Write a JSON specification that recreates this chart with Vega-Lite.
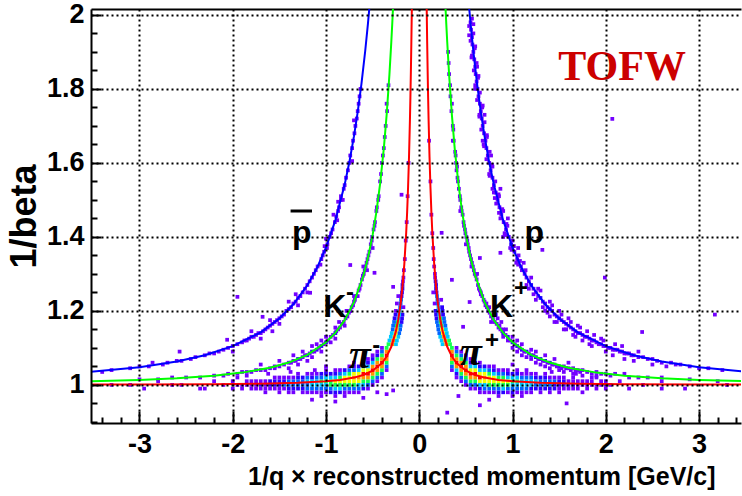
{
"$schema":"https://vega.github.io/schema/vega-lite/v6.json",
"width":650,"height":414,
"autosize":{"type":"none"},
"padding":{"left":91,"top":9,"right":1,"bottom":73},
"background":"white",
"config":{"view":{"stroke":null},
"axis":{"domainColor":"black","domainWidth":2,"tickColor":"black","tickWidth":2,"labelFont":"Liberation Sans","labelFontWeight":"bold","labelFontSize":27,"labelColor":"black","titleFont":"Liberation Sans","titleFontWeight":"bold","titleColor":"black","gridColor":"black","gridDash":[2,3],"gridWidth":2,"gridOpacity":1}},
"datasets":{
"cells":[
{"x":0.25,"y":1.11,"c":10},{"x":0.29,"y":1.11,"c":34},{"x":0.33,"y":1.11,"c":14},
{"x":0.24,"y":1.12,"c":9},{"x":0.28,"y":1.12,"c":30},{"x":0.32,"y":1.12,"c":12},
{"x":0.225,"y":1.13,"c":8},{"x":0.265,"y":1.13,"c":26},{"x":0.305,"y":1.13,"c":10},
{"x":0.215,"y":1.14,"c":7},{"x":0.255,"y":1.14,"c":22},{"x":0.295,"y":1.14,"c":9},
{"x":0.205,"y":1.15,"c":6},{"x":0.245,"y":1.15,"c":19},{"x":0.285,"y":1.15,"c":8},
{"x":0.2,"y":1.16,"c":5},{"x":0.24,"y":1.16,"c":16},{"x":0.28,"y":1.16,"c":7},
{"x":0.19,"y":1.17,"c":5},{"x":0.23,"y":1.17,"c":14},{"x":0.27,"y":1.17,"c":6},
{"x":0.185,"y":1.18,"c":4},{"x":0.225,"y":1.18,"c":12},{"x":0.265,"y":1.18,"c":5},
{"x":0.18,"y":1.19,"c":4},{"x":0.215,"y":1.19,"c":10},{"x":0.255,"y":1.19,"c":4},
{"x":0.175,"y":1.2,"c":3},{"x":0.21,"y":1.2,"c":9},{"x":0.25,"y":1.2,"c":3},
{"x":0.205,"y":1.21,"c":8},{"x":0.245,"y":1.21,"c":3},
{"x":0.165,"y":1.22,"c":2},{"x":0.2,"y":1.22,"c":7},
{"x":0.195,"y":1.23,"c":6},{"x":0.235,"y":1.23,"c":2},
{"x":0.19,"y":1.24,"c":5},{"x":0.185,"y":1.25,"c":4},{"x":0.15,"y":1.25,"c":1},
{"x":0.18,"y":1.26,"c":4},{"x":0.18,"y":1.27,"c":3},{"x":0.175,"y":1.28,"c":3},{"x":0.17,"y":1.29,"c":2},{"x":0.168,"y":1.3,"c":2},
{"x":0.16,"y":1.32,"c":1},{"x":0.155,"y":1.34,"c":1},{"x":0.15,"y":1.37,"c":1},{"x":0.14,"y":1.41,"c":1},{"x":0.13,"y":1.46,"c":1},{"x":0.12,"y":1.55,"c":1},{"x":0.105,"y":1.66,"c":1},
{"x":0.35,"y":1.04,"c":2},{"x":0.35,"y":1.05,"c":5},{"x":0.35,"y":1.06,"c":12},{"x":0.35,"y":1.07,"c":28},{"x":0.35,"y":1.08,"c":40},{"x":0.35,"y":1.09,"c":30},{"x":0.35,"y":1.1,"c":16},
{"x":0.4,"y":1.02,"c":1},{"x":0.4,"y":1.03,"c":4},{"x":0.4,"y":1.04,"c":11},{"x":0.4,"y":1.05,"c":28},{"x":0.4,"y":1.06,"c":44},{"x":0.4,"y":1.07,"c":30},{"x":0.4,"y":1.08,"c":13},{"x":0.4,"y":1.09,"c":6},{"x":0.4,"y":1.1,"c":2},
{"x":0.45,"y":1.01,"c":2},{"x":0.45,"y":1.02,"c":5},{"x":0.45,"y":1.03,"c":13},{"x":0.45,"y":1.04,"c":31},{"x":0.45,"y":1.05,"c":45},{"x":0.45,"y":1.06,"c":27},{"x":0.45,"y":1.07,"c":14},{"x":0.45,"y":1.08,"c":5},{"x":0.45,"y":1.09,"c":1},
{"x":0.5,"y":1,"c":1},{"x":0.5,"y":1.01,"c":5},{"x":0.5,"y":1.02,"c":14},{"x":0.5,"y":1.03,"c":30},{"x":0.5,"y":1.04,"c":42},{"x":0.5,"y":1.05,"c":26},{"x":0.5,"y":1.06,"c":12},{"x":0.5,"y":1.07,"c":5},{"x":0.5,"y":1.08,"c":2},
{"x":0.55,"y":0.99,"c":2},{"x":0.55,"y":1,"c":6},{"x":0.55,"y":1.01,"c":15},{"x":0.55,"y":1.02,"c":32},{"x":0.55,"y":1.03,"c":40},{"x":0.55,"y":1.04,"c":24},{"x":0.55,"y":1.05,"c":10},{"x":0.55,"y":1.06,"c":4},{"x":0.55,"y":1.07,"c":1},
{"x":0.6,"y":0.99,"c":2},{"x":0.6,"y":1,"c":7},{"x":0.6,"y":1.01,"c":14},{"x":0.6,"y":1.02,"c":29},{"x":0.6,"y":1.03,"c":38},{"x":0.6,"y":1.04,"c":20},{"x":0.6,"y":1.05,"c":9},{"x":0.6,"y":1.06,"c":3},
{"x":0.65,"y":0.98,"c":1},{"x":0.65,"y":0.99,"c":4},{"x":0.65,"y":1,"c":10},{"x":0.65,"y":1.01,"c":22},{"x":0.65,"y":1.02,"c":36},{"x":0.65,"y":1.03,"c":24},{"x":0.65,"y":1.04,"c":10},{"x":0.65,"y":1.05,"c":4},{"x":0.65,"y":1.06,"c":1},
{"x":0.7,"y":0.98,"c":2},{"x":0.7,"y":0.99,"c":5},{"x":0.7,"y":1,"c":11},{"x":0.7,"y":1.01,"c":20},{"x":0.7,"y":1.02,"c":30},{"x":0.7,"y":1.03,"c":18},{"x":0.7,"y":1.04,"c":8},{"x":0.7,"y":1.05,"c":3},
{"x":0.75,"y":0.98,"c":2},{"x":0.75,"y":0.99,"c":6},{"x":0.75,"y":1,"c":12},{"x":0.75,"y":1.01,"c":19},{"x":0.75,"y":1.02,"c":24},{"x":0.75,"y":1.03,"c":14},{"x":0.75,"y":1.04,"c":6},{"x":0.75,"y":1.05,"c":2},
{"x":0.8,"y":0.98,"c":1},{"x":0.8,"y":0.99,"c":6},{"x":0.8,"y":1,"c":13},{"x":0.8,"y":1.01,"c":20},{"x":0.8,"y":1.02,"c":21},{"x":0.8,"y":1.03,"c":11},{"x":0.8,"y":1.04,"c":4},{"x":0.8,"y":1.05,"c":1},
{"x":0.85,"y":0.97,"c":1},{"x":0.85,"y":0.98,"c":3},{"x":0.85,"y":0.99,"c":7},{"x":0.85,"y":1,"c":14},{"x":0.85,"y":1.01,"c":20},{"x":0.85,"y":1.02,"c":13},{"x":0.85,"y":1.03,"c":6},{"x":0.85,"y":1.04,"c":2},
{"x":0.9,"y":0.98,"c":3},{"x":0.9,"y":0.99,"c":8},{"x":0.9,"y":1,"c":13},{"x":0.9,"y":1.01,"c":18},{"x":0.9,"y":1.02,"c":12},{"x":0.9,"y":1.03,"c":5},{"x":0.9,"y":1.04,"c":2},
{"x":0.95,"y":0.98,"c":2},{"x":0.95,"y":0.99,"c":7},{"x":0.95,"y":1,"c":12},{"x":0.95,"y":1.01,"c":17},{"x":0.95,"y":1.02,"c":10},{"x":0.95,"y":1.03,"c":4},{"x":0.95,"y":1.04,"c":1},
{"x":1,"y":0.97,"c":1},{"x":1,"y":0.98,"c":3},{"x":1,"y":0.99,"c":6},{"x":1,"y":1,"c":11},{"x":1,"y":1.01,"c":15},{"x":1,"y":1.02,"c":9},{"x":1,"y":1.03,"c":4},
{"x":1.05,"y":0.98,"c":2},{"x":1.05,"y":0.99,"c":6},{"x":1.05,"y":1,"c":10},{"x":1.05,"y":1.01,"c":13},{"x":1.05,"y":1.02,"c":8},{"x":1.05,"y":1.03,"c":3},{"x":1.05,"y":1.04,"c":1},
{"x":1.1,"y":0.98,"c":2},{"x":1.1,"y":0.99,"c":5},{"x":1.1,"y":1,"c":9},{"x":1.1,"y":1.01,"c":11},{"x":1.1,"y":1.02,"c":6},{"x":1.1,"y":1.03,"c":2},
{"x":1.15,"y":0.98,"c":1},{"x":1.15,"y":0.99,"c":5},{"x":1.15,"y":1,"c":8},{"x":1.15,"y":1.01,"c":10},{"x":1.15,"y":1.02,"c":5},{"x":1.15,"y":1.03,"c":2},
{"x":1.2,"y":0.98,"c":2},{"x":1.2,"y":0.99,"c":4},{"x":1.2,"y":1,"c":8},{"x":1.2,"y":1.01,"c":9},{"x":1.2,"y":1.02,"c":5},{"x":1.2,"y":1.03,"c":1},
{"x":1.25,"y":0.99,"c":4},{"x":1.25,"y":1,"c":7},{"x":1.25,"y":1.01,"c":8},{"x":1.25,"y":1.02,"c":4},{"x":1.25,"y":1.03,"c":1},
{"x":1.3,"y":0.98,"c":1},{"x":1.3,"y":0.99,"c":4},{"x":1.3,"y":1,"c":6},{"x":1.3,"y":1.01,"c":7},{"x":1.3,"y":1.02,"c":3},
{"x":1.35,"y":0.99,"c":3},{"x":1.35,"y":1,"c":6},{"x":1.35,"y":1.01,"c":6},{"x":1.35,"y":1.02,"c":3},{"x":1.35,"y":1.03,"c":1},
{"x":1.4,"y":0.98,"c":1},{"x":1.4,"y":0.99,"c":3},{"x":1.4,"y":1,"c":5},{"x":1.4,"y":1.01,"c":5},{"x":1.4,"y":1.02,"c":2},
{"x":1.45,"y":0.99,"c":3},{"x":1.45,"y":1,"c":4},{"x":1.45,"y":1.01,"c":5},{"x":1.45,"y":1.02,"c":2},
{"x":1.5,"y":0.98,"c":1},{"x":1.5,"y":0.99,"c":2},{"x":1.5,"y":1,"c":4},{"x":1.5,"y":1.01,"c":4},{"x":1.5,"y":1.02,"c":2},
{"x":1.55,"y":0.99,"c":2},{"x":1.55,"y":1,"c":3},{"x":1.55,"y":1.01,"c":3},{"x":1.55,"y":1.02,"c":1},
{"x":1.6,"y":0.99,"c":2},{"x":1.6,"y":1,"c":3},{"x":1.6,"y":1.01,"c":2},
{"x":1.65,"y":0.99,"c":1},{"x":1.65,"y":1,"c":3},{"x":1.65,"y":1.01,"c":2},{"x":1.65,"y":1.02,"c":1},
{"x":1.7,"y":0.99,"c":2},{"x":1.7,"y":1,"c":2},{"x":1.7,"y":1.01,"c":2},
{"x":1.75,"y":0.98,"c":1},{"x":1.75,"y":1,"c":2},{"x":1.75,"y":1.01,"c":2},
{"x":1.8,"y":0.99,"c":1},{"x":1.8,"y":1,"c":2},{"x":1.8,"y":1.01,"c":1},
{"x":1.85,"y":1,"c":2},{"x":1.85,"y":1.01,"c":1},{"x":1.85,"y":1.02,"c":1},
{"x":1.9,"y":0.99,"c":1},{"x":1.9,"y":1,"c":2},{"x":1.95,"y":1,"c":1},{"x":1.95,"y":1.01,"c":2},
{"x":2,"y":0.99,"c":1},{"x":2,"y":1,"c":1},{"x":2,"y":1.01,"c":1},
{"x":2.05,"y":1,"c":1},{"x":2.15,"y":1.01,"c":1},{"x":2.25,"y":0.99,"c":1},{"x":2.4,"y":1,"c":1},{"x":2.6,"y":1.01,"c":1},{"x":2.85,"y":0.99,"c":1},
{"x":-0.25,"y":1.11,"c":11},{"x":-0.29,"y":1.11,"c":32},{"x":-0.33,"y":1.11,"c":12},
{"x":-0.24,"y":1.12,"c":8},{"x":-0.28,"y":1.12,"c":28},{"x":-0.32,"y":1.12,"c":11},
{"x":-0.225,"y":1.13,"c":8},{"x":-0.265,"y":1.13,"c":24},{"x":-0.305,"y":1.13,"c":9},
{"x":-0.215,"y":1.14,"c":6},{"x":-0.255,"y":1.14,"c":21},{"x":-0.295,"y":1.14,"c":8},
{"x":-0.205,"y":1.15,"c":6},{"x":-0.245,"y":1.15,"c":17},{"x":-0.285,"y":1.15,"c":7},
{"x":-0.2,"y":1.16,"c":5},{"x":-0.24,"y":1.16,"c":15},{"x":-0.28,"y":1.16,"c":5},
{"x":-0.19,"y":1.17,"c":4},{"x":-0.23,"y":1.17,"c":13},{"x":-0.27,"y":1.17,"c":5},
{"x":-0.185,"y":1.18,"c":4},{"x":-0.225,"y":1.18,"c":11},{"x":-0.265,"y":1.18,"c":4},
{"x":-0.18,"y":1.19,"c":3},{"x":-0.215,"y":1.19,"c":9},{"x":-0.255,"y":1.19,"c":3},
{"x":-0.21,"y":1.2,"c":8},{"x":-0.25,"y":1.2,"c":2},
{"x":-0.17,"y":1.21,"c":2},{"x":-0.205,"y":1.21,"c":7},
{"x":-0.2,"y":1.22,"c":6},{"x":-0.24,"y":1.22,"c":2},
{"x":-0.195,"y":1.23,"c":5},{"x":-0.19,"y":1.24,"c":4},{"x":-0.225,"y":1.24,"c":1},
{"x":-0.185,"y":1.25,"c":4},{"x":-0.18,"y":1.26,"c":3},{"x":-0.18,"y":1.27,"c":3},{"x":-0.175,"y":1.28,"c":2},{"x":-0.17,"y":1.29,"c":2},
{"x":-0.165,"y":1.31,"c":1},{"x":-0.155,"y":1.34,"c":1},{"x":-0.145,"y":1.39,"c":1},{"x":-0.135,"y":1.44,"c":1},{"x":-0.125,"y":1.51,"c":1},{"x":-0.115,"y":1.6,"c":1},
{"x":-0.35,"y":1.04,"c":2},{"x":-0.35,"y":1.05,"c":6},{"x":-0.35,"y":1.06,"c":13},{"x":-0.35,"y":1.07,"c":27},{"x":-0.35,"y":1.08,"c":38},{"x":-0.35,"y":1.09,"c":28},{"x":-0.35,"y":1.1,"c":15},
{"x":-0.4,"y":1.02,"c":2},{"x":-0.4,"y":1.03,"c":5},{"x":-0.4,"y":1.04,"c":12},{"x":-0.4,"y":1.05,"c":29},{"x":-0.4,"y":1.06,"c":42},{"x":-0.4,"y":1.07,"c":28},{"x":-0.4,"y":1.08,"c":12},{"x":-0.4,"y":1.09,"c":5},{"x":-0.4,"y":1.1,"c":1},
{"x":-0.45,"y":1.01,"c":1},{"x":-0.45,"y":1.02,"c":6},{"x":-0.45,"y":1.03,"c":14},{"x":-0.45,"y":1.04,"c":30},{"x":-0.45,"y":1.05,"c":43},{"x":-0.45,"y":1.06,"c":26},{"x":-0.45,"y":1.07,"c":13},{"x":-0.45,"y":1.08,"c":4},{"x":-0.45,"y":1.09,"c":2},
{"x":-0.5,"y":1,"c":2},{"x":-0.5,"y":1.01,"c":6},{"x":-0.5,"y":1.02,"c":15},{"x":-0.5,"y":1.03,"c":31},{"x":-0.5,"y":1.04,"c":40},{"x":-0.5,"y":1.05,"c":25},{"x":-0.5,"y":1.06,"c":11},{"x":-0.5,"y":1.07,"c":4},{"x":-0.5,"y":1.08,"c":1},
{"x":-0.55,"y":0.99,"c":1},{"x":-0.55,"y":1,"c":5},{"x":-0.55,"y":1.01,"c":16},{"x":-0.55,"y":1.02,"c":30},{"x":-0.55,"y":1.03,"c":39},{"x":-0.55,"y":1.04,"c":22},{"x":-0.55,"y":1.05,"c":9},{"x":-0.55,"y":1.06,"c":3},{"x":-0.55,"y":1.07,"c":1},
{"x":-0.6,"y":0.99,"c":3},{"x":-0.6,"y":1,"c":8},{"x":-0.6,"y":1.01,"c":15},{"x":-0.6,"y":1.02,"c":28},{"x":-0.6,"y":1.03,"c":36},{"x":-0.6,"y":1.04,"c":19},{"x":-0.6,"y":1.05,"c":8},{"x":-0.6,"y":1.06,"c":2},
{"x":-0.65,"y":0.98,"c":2},{"x":-0.65,"y":0.99,"c":5},{"x":-0.65,"y":1,"c":11},{"x":-0.65,"y":1.01,"c":23},{"x":-0.65,"y":1.02,"c":34},{"x":-0.65,"y":1.03,"c":22},{"x":-0.65,"y":1.04,"c":9},{"x":-0.65,"y":1.05,"c":3},
{"x":-0.7,"y":0.98,"c":1},{"x":-0.7,"y":0.99,"c":6},{"x":-0.7,"y":1,"c":12},{"x":-0.7,"y":1.01,"c":21},{"x":-0.7,"y":1.02,"c":29},{"x":-0.7,"y":1.03,"c":17},{"x":-0.7,"y":1.04,"c":7},{"x":-0.7,"y":1.05,"c":2},{"x":-0.7,"y":1.06,"c":1},
{"x":-0.75,"y":0.98,"c":2},{"x":-0.75,"y":0.99,"c":7},{"x":-0.75,"y":1,"c":13},{"x":-0.75,"y":1.01,"c":18},{"x":-0.75,"y":1.02,"c":23},{"x":-0.75,"y":1.03,"c":13},{"x":-0.75,"y":1.04,"c":5},{"x":-0.75,"y":1.05,"c":1},
{"x":-0.8,"y":0.97,"c":1},{"x":-0.8,"y":0.98,"c":2},{"x":-0.8,"y":0.99,"c":7},{"x":-0.8,"y":1,"c":14},{"x":-0.8,"y":1.01,"c":19},{"x":-0.8,"y":1.02,"c":20},{"x":-0.8,"y":1.03,"c":10},{"x":-0.8,"y":1.04,"c":3},
{"x":-0.85,"y":0.98,"c":3},{"x":-0.85,"y":0.99,"c":8},{"x":-0.85,"y":1,"c":13},{"x":-0.85,"y":1.01,"c":19},{"x":-0.85,"y":1.02,"c":12},{"x":-0.85,"y":1.03,"c":5},{"x":-0.85,"y":1.04,"c":1},
{"x":-0.9,"y":0.97,"c":1},{"x":-0.9,"y":0.98,"c":4},{"x":-0.9,"y":0.99,"c":8},{"x":-0.9,"y":1,"c":12},{"x":-0.9,"y":1.01,"c":17},{"x":-0.9,"y":1.02,"c":11},{"x":-0.9,"y":1.03,"c":4},{"x":-0.9,"y":1.04,"c":1},
{"x":-0.95,"y":0.98,"c":3},{"x":-0.95,"y":0.99,"c":7},{"x":-0.95,"y":1,"c":12},{"x":-0.95,"y":1.01,"c":16},{"x":-0.95,"y":1.02,"c":9},{"x":-0.95,"y":1.03,"c":4},
{"x":-1,"y":0.98,"c":2},{"x":-1,"y":0.99,"c":7},{"x":-1,"y":1,"c":11},{"x":-1,"y":1.01,"c":14},{"x":-1,"y":1.02,"c":8},{"x":-1,"y":1.03,"c":3},{"x":-1,"y":1.04,"c":1},
{"x":-1.05,"y":0.97,"c":1},{"x":-1.05,"y":0.98,"c":2},{"x":-1.05,"y":0.99,"c":6},{"x":-1.05,"y":1,"c":10},{"x":-1.05,"y":1.01,"c":12},{"x":-1.05,"y":1.02,"c":7},{"x":-1.05,"y":1.03,"c":3},
{"x":-1.1,"y":0.98,"c":2},{"x":-1.1,"y":0.99,"c":6},{"x":-1.1,"y":1,"c":9},{"x":-1.1,"y":1.01,"c":10},{"x":-1.1,"y":1.02,"c":6},{"x":-1.1,"y":1.03,"c":2},
{"x":-1.15,"y":0.98,"c":2},{"x":-1.15,"y":0.99,"c":5},{"x":-1.15,"y":1,"c":8},{"x":-1.15,"y":1.01,"c":9},{"x":-1.15,"y":1.02,"c":4},{"x":-1.15,"y":1.03,"c":1},
{"x":-1.2,"y":0.98,"c":1},{"x":-1.2,"y":0.99,"c":5},{"x":-1.2,"y":1,"c":7},{"x":-1.2,"y":1.01,"c":9},{"x":-1.2,"y":1.02,"c":5},{"x":-1.2,"y":1.03,"c":2},
{"x":-1.25,"y":0.98,"c":1},{"x":-1.25,"y":0.99,"c":4},{"x":-1.25,"y":1,"c":7},{"x":-1.25,"y":1.01,"c":7},{"x":-1.25,"y":1.02,"c":3},
{"x":-1.3,"y":0.99,"c":4},{"x":-1.3,"y":1,"c":6},{"x":-1.3,"y":1.01,"c":7},{"x":-1.3,"y":1.02,"c":3},{"x":-1.3,"y":1.03,"c":1},
{"x":-1.35,"y":0.98,"c":1},{"x":-1.35,"y":0.99,"c":3},{"x":-1.35,"y":1,"c":6},{"x":-1.35,"y":1.01,"c":5},{"x":-1.35,"y":1.02,"c":2},
{"x":-1.4,"y":0.98,"c":1},{"x":-1.4,"y":0.99,"c":3},{"x":-1.4,"y":1,"c":5},{"x":-1.4,"y":1.01,"c":5},{"x":-1.4,"y":1.02,"c":2},
{"x":-1.45,"y":0.99,"c":2},{"x":-1.45,"y":1,"c":5},{"x":-1.45,"y":1.01,"c":4},{"x":-1.45,"y":1.02,"c":2},
{"x":-1.5,"y":0.98,"c":1},{"x":-1.5,"y":0.99,"c":2},{"x":-1.5,"y":1,"c":4},{"x":-1.5,"y":1.01,"c":4},{"x":-1.5,"y":1.02,"c":1},
{"x":-1.55,"y":0.99,"c":2},{"x":-1.55,"y":1,"c":3},{"x":-1.55,"y":1.01,"c":3},{"x":-1.55,"y":1.02,"c":1},
{"x":-1.6,"y":0.99,"c":1},{"x":-1.6,"y":1,"c":3},{"x":-1.6,"y":1.01,"c":3},
{"x":-1.65,"y":0.98,"c":1},{"x":-1.65,"y":0.99,"c":2},{"x":-1.65,"y":1,"c":2},{"x":-1.65,"y":1.01,"c":2},
{"x":-1.7,"y":0.99,"c":1},{"x":-1.7,"y":1,"c":3},{"x":-1.7,"y":1.01,"c":2},
{"x":-1.75,"y":0.99,"c":1},{"x":-1.75,"y":1,"c":2},{"x":-1.75,"y":1.01,"c":1},
{"x":-1.8,"y":0.99,"c":1},{"x":-1.8,"y":1,"c":2},{"x":-1.8,"y":1.01,"c":2},
{"x":-1.85,"y":1,"c":1},{"x":-1.85,"y":1.01,"c":2},{"x":-1.9,"y":0.99,"c":2},{"x":-1.9,"y":1,"c":1},
{"x":-1.95,"y":1,"c":1},{"x":-1.95,"y":1.02,"c":1},{"x":-2,"y":0.99,"c":1},{"x":-2,"y":1.01,"c":1},
{"x":-2.1,"y":1,"c":1},{"x":-2.2,"y":1.01,"c":1},{"x":-2.35,"y":0.99,"c":1},{"x":-2.55,"y":1,"c":1},{"x":-2.8,"y":1.01,"c":1},{"x":-3.1,"y":1,"c":1},{"x":-3.3,"y":1,"c":1},{"x":-2.95,"y":0.99,"c":1},{"x":-2.65,"y":1,"c":1},
{"x":0.31,"y":1.9,"c":1},{"x":0.32,"y":1.84,"c":1},{"x":0.335,"y":1.78,"c":1},{"x":0.345,"y":1.74,"c":1},{"x":0.36,"y":1.7,"c":1},{"x":0.37,"y":1.66,"c":1},{"x":0.385,"y":1.63,"c":1},
{"x":0.395,"y":1.6,"c":2},{"x":0.4,"y":1.58,"c":1},{"x":0.41,"y":1.56,"c":1},{"x":0.425,"y":1.53,"c":1},{"x":0.44,"y":1.5,"c":1},{"x":0.45,"y":1.48,"c":2},{"x":0.465,"y":1.46,"c":1},{"x":0.475,"y":1.44,"c":1},{"x":0.49,"y":1.42,"c":1},{"x":0.505,"y":1.4,"c":2},{"x":0.52,"y":1.38,"c":1},{"x":0.535,"y":1.36,"c":2},{"x":0.555,"y":1.34,"c":2},{"x":0.575,"y":1.32,"c":1},{"x":0.595,"y":1.3,"c":2},{"x":0.615,"y":1.285,"c":1},{"x":0.63,"y":1.27,"c":2},{"x":0.65,"y":1.255,"c":1},{"x":0.675,"y":1.24,"c":2},{"x":0.7,"y":1.225,"c":1},{"x":0.725,"y":1.21,"c":2},{"x":0.755,"y":1.195,"c":1},{"x":0.79,"y":1.18,"c":2},{"x":0.83,"y":1.165,"c":1},{"x":0.87,"y":1.15,"c":2},
{"x":0.36,"y":1.66,"c":1},{"x":0.44,"y":1.47,"c":1},{"x":0.5,"y":1.38,"c":1},{"x":0.56,"y":1.32,"c":1},{"x":0.62,"y":1.3,"c":1},{"x":0.66,"y":1.25,"c":1},{"x":0.72,"y":1.22,"c":1},{"x":0.77,"y":1.17,"c":1},{"x":0.8,"y":1.19,"c":1},{"x":0.84,"y":1.18,"c":1},{"x":0.86,"y":1.16,"c":1},
{"x":0.315,"y":1.87,"c":1},{"x":0.33,"y":1.81,"c":1},{"x":0.35,"y":1.76,"c":1},{"x":0.365,"y":1.69,"c":1},{"x":0.39,"y":1.62,"c":1},{"x":0.405,"y":1.59,"c":1},{"x":0.415,"y":1.55,"c":1},{"x":0.435,"y":1.51,"c":1},{"x":0.455,"y":1.47,"c":1},{"x":0.48,"y":1.43,"c":1},{"x":0.495,"y":1.41,"c":1},{"x":0.515,"y":1.39,"c":1},{"x":0.53,"y":1.37,"c":1},{"x":0.545,"y":1.35,"c":1},{"x":0.565,"y":1.33,"c":1},{"x":0.585,"y":1.31,"c":1},{"x":0.605,"y":1.295,"c":1},{"x":0.64,"y":1.26,"c":1},{"x":0.66,"y":1.245,"c":1},{"x":0.69,"y":1.23,"c":1},{"x":0.71,"y":1.215,"c":1},{"x":0.74,"y":1.2,"c":1},{"x":0.77,"y":1.185,"c":1},{"x":0.81,"y":1.17,"c":1},{"x":0.85,"y":1.155,"c":1},{"x":0.89,"y":1.145,"c":1},{"x":0.75,"y":1.21,"c":1},{"x":0.82,"y":1.19,"c":1},{"x":0.88,"y":1.17,"c":1},{"x":0.93,"y":1.15,"c":1},
{"x":0.9,"y":1.14,"c":3},{"x":0.9,"y":1.13,"c":1},{"x":0.9,"y":1.15,"c":1},{"x":0.95,"y":1.13,"c":3},{"x":0.95,"y":1.12,"c":2},{"x":1,"y":1.115,"c":3},{"x":1,"y":1.1,"c":1},{"x":1,"y":1.13,"c":1},
{"x":1.05,"y":1.105,"c":3},{"x":1.05,"y":1.09,"c":2},{"x":1.05,"y":1.12,"c":1},{"x":1.1,"y":1.095,"c":4},{"x":1.1,"y":1.08,"c":1},{"x":1.1,"y":1.11,"c":2},{"x":1.15,"y":1.09,"c":3},{"x":1.15,"y":1.075,"c":2},
{"x":1.2,"y":1.08,"c":4},{"x":1.2,"y":1.07,"c":2},{"x":1.2,"y":1.095,"c":1},{"x":1.25,"y":1.075,"c":3},{"x":1.25,"y":1.06,"c":1},{"x":1.25,"y":1.09,"c":2},{"x":1.3,"y":1.07,"c":3},{"x":1.3,"y":1.055,"c":2},
{"x":1.35,"y":1.065,"c":3},{"x":1.35,"y":1.05,"c":1},{"x":1.35,"y":1.08,"c":1},{"x":1.4,"y":1.06,"c":3},{"x":1.4,"y":1.045,"c":2},{"x":1.45,"y":1.055,"c":2},{"x":1.45,"y":1.07,"c":1},{"x":1.5,"y":1.05,"c":3},{"x":1.5,"y":1.04,"c":1},
{"x":1.55,"y":1.05,"c":2},{"x":1.55,"y":1.035,"c":1},{"x":1.6,"y":1.045,"c":2},{"x":1.6,"y":1.06,"c":1},{"x":1.65,"y":1.045,"c":1},{"x":1.65,"y":1.03,"c":1},{"x":1.7,"y":1.04,"c":2},{"x":1.75,"y":1.04,"c":1},{"x":1.75,"y":1.025,"c":1},{"x":1.8,"y":1.035,"c":2},{"x":1.9,"y":1.035,"c":1},{"x":1.9,"y":1.02,"c":1},{"x":2,"y":1.03,"c":1},{"x":2.1,"y":1.03,"c":1},{"x":2.25,"y":1.02,"c":1},{"x":2.45,"y":1.02,"c":1},
{"x":0.925,"y":1.135,"c":2},{"x":0.975,"y":1.12,"c":2},{"x":1.025,"y":1.11,"c":2},{"x":1.075,"y":1.1,"c":2},{"x":1.125,"y":1.09,"c":2},{"x":1.175,"y":1.085,"c":2},{"x":1.225,"y":1.08,"c":1},{"x":1.275,"y":1.07,"c":2},{"x":1.325,"y":1.065,"c":1},{"x":1.375,"y":1.06,"c":2},{"x":1.425,"y":1.055,"c":1},{"x":1.475,"y":1.05,"c":2},{"x":1.525,"y":1.045,"c":1},{"x":1.575,"y":1.045,"c":1},{"x":1.625,"y":1.04,"c":1},{"x":1.675,"y":1.04,"c":1},{"x":1.725,"y":1.035,"c":1},{"x":1.85,"y":1.03,"c":1},{"x":1.95,"y":1.03,"c":1},{"x":2.05,"y":1.025,"c":1},{"x":2.2,"y":1.03,"c":1},{"x":2.35,"y":1.02,"c":1},{"x":2.6,"y":1.02,"c":1},{"x":2.9,"y":1.015,"c":1},{"x":3.2,"y":1.01,"c":1},
{"x":-0.345,"y":1.74,"c":1},{"x":-0.36,"y":1.7,"c":1},{"x":-0.38,"y":1.64,"c":1},{"x":-0.4,"y":1.6,"c":1},{"x":-0.42,"y":1.55,"c":1},{"x":-0.44,"y":1.5,"c":1},{"x":-0.46,"y":1.47,"c":1},{"x":-0.475,"y":1.44,"c":2},{"x":-0.49,"y":1.42,"c":1},{"x":-0.505,"y":1.4,"c":1},{"x":-0.52,"y":1.38,"c":2},{"x":-0.535,"y":1.36,"c":1},{"x":-0.555,"y":1.34,"c":2},{"x":-0.575,"y":1.32,"c":1},{"x":-0.595,"y":1.3,"c":2},{"x":-0.615,"y":1.285,"c":1},{"x":-0.63,"y":1.27,"c":2},{"x":-0.65,"y":1.255,"c":2},{"x":-0.675,"y":1.24,"c":1},{"x":-0.7,"y":1.225,"c":2},{"x":-0.725,"y":1.21,"c":2},{"x":-0.755,"y":1.195,"c":2},{"x":-0.79,"y":1.18,"c":2},{"x":-0.83,"y":1.165,"c":2},{"x":-0.87,"y":1.15,"c":2},
{"x":-0.5,"y":1.37,"c":1},{"x":-0.56,"y":1.31,"c":1},{"x":-0.6,"y":1.32,"c":1},{"x":-0.66,"y":1.24,"c":1},{"x":-0.7,"y":1.24,"c":1},{"x":-0.74,"y":1.2,"c":1},{"x":-0.78,"y":1.2,"c":1},{"x":-0.8,"y":1.16,"c":1},{"x":-0.86,"y":1.17,"c":1},
{"x":-0.33,"y":1.81,"c":1},{"x":-0.35,"y":1.76,"c":1},{"x":-0.37,"y":1.67,"c":1},{"x":-0.39,"y":1.62,"c":1},{"x":-0.41,"y":1.57,"c":1},{"x":-0.435,"y":1.51,"c":1},{"x":-0.455,"y":1.48,"c":1},{"x":-0.48,"y":1.43,"c":1},{"x":-0.51,"y":1.39,"c":1},{"x":-0.545,"y":1.35,"c":1},{"x":-0.565,"y":1.33,"c":1},{"x":-0.585,"y":1.31,"c":1},{"x":-0.605,"y":1.295,"c":1},{"x":-0.64,"y":1.26,"c":1},{"x":-0.69,"y":1.23,"c":1},{"x":-0.71,"y":1.215,"c":1},{"x":-0.74,"y":1.2,"c":1},{"x":-0.77,"y":1.185,"c":1},{"x":-0.81,"y":1.17,"c":1},{"x":-0.85,"y":1.155,"c":1},{"x":-0.89,"y":1.145,"c":1},
{"x":-0.9,"y":1.14,"c":3},{"x":-0.9,"y":1.125,"c":1},{"x":-0.9,"y":1.155,"c":1},{"x":-0.95,"y":1.13,"c":2},{"x":-0.95,"y":1.115,"c":2},{"x":-1,"y":1.115,"c":3},{"x":-1,"y":1.13,"c":1},
{"x":-1.05,"y":1.105,"c":3},{"x":-1.05,"y":1.09,"c":1},{"x":-1.05,"y":1.12,"c":1},{"x":-1.1,"y":1.095,"c":3},{"x":-1.1,"y":1.11,"c":1},{"x":-1.15,"y":1.09,"c":3},{"x":-1.15,"y":1.075,"c":1},{"x":-1.15,"y":1.105,"c":1},
{"x":-1.2,"y":1.08,"c":3},{"x":-1.2,"y":1.065,"c":2},{"x":-1.25,"y":1.075,"c":2},{"x":-1.25,"y":1.09,"c":1},{"x":-1.3,"y":1.07,"c":3},{"x":-1.3,"y":1.055,"c":1},{"x":-1.35,"y":1.065,"c":2},{"x":-1.35,"y":1.08,"c":1},
{"x":-1.4,"y":1.06,"c":2},{"x":-1.4,"y":1.045,"c":1},{"x":-1.5,"y":1.05,"c":2},{"x":-1.5,"y":1.065,"c":1},{"x":-1.55,"y":1.05,"c":1},{"x":-1.6,"y":1.045,"c":2},{"x":-1.7,"y":1.04,"c":1},{"x":-1.7,"y":1.055,"c":1},{"x":-1.8,"y":1.035,"c":1},{"x":-1.9,"y":1.035,"c":1},{"x":-2.05,"y":1.03,"c":1},{"x":-2.2,"y":1.025,"c":1},{"x":-2.5,"y":1.02,"c":1},{"x":-2.8,"y":1.015,"c":1},
{"x":-0.925,"y":1.135,"c":2},{"x":-0.975,"y":1.12,"c":2},{"x":-1.025,"y":1.11,"c":1},{"x":-1.075,"y":1.1,"c":2},{"x":-1.125,"y":1.09,"c":1},{"x":-1.175,"y":1.085,"c":2},{"x":-1.225,"y":1.08,"c":1},{"x":-1.275,"y":1.07,"c":1},{"x":-1.325,"y":1.065,"c":2},{"x":-1.375,"y":1.06,"c":1},{"x":-1.45,"y":1.055,"c":1},{"x":-1.55,"y":1.045,"c":1},{"x":-1.65,"y":1.04,"c":1},{"x":-1.75,"y":1.04,"c":1},{"x":-1.85,"y":1.035,"c":1},{"x":-1.95,"y":1.03,"c":1},{"x":-2.1,"y":1.025,"c":1},{"x":-2.35,"y":1.02,"c":1},{"x":-2.65,"y":1.02,"c":1},{"x":-3,"y":1.015,"c":1},
{"x":-1.12,"y":1.04,"c":1},{"x":-1.38,"y":1.035,"c":1},{"x":-1.62,"y":1.03,"c":1},{"x":-1.85,"y":1.025,"c":1},{"x":1.15,"y":1.04,"c":1},{"x":1.42,"y":1.035,"c":1},{"x":1.68,"y":1.03,"c":1},{"x":1.9,"y":1.025,"c":1},{"x":-1,"y":1.05,"c":1},{"x":1,"y":1.055,"c":1},
{"x":0.55,"y":1.98,"c":2},{"x":0.58,"y":1.975,"c":1},{"x":0.555,"y":1.96,"c":2},{"x":0.565,"y":1.94,"c":2},{"x":0.535,"y":1.945,"c":1},{"x":0.57,"y":1.92,"c":1},{"x":0.6,"y":1.915,"c":1},{"x":0.58,"y":1.9,"c":2},{"x":0.59,"y":1.88,"c":2},{"x":0.56,"y":1.885,"c":1},{"x":0.6,"y":1.86,"c":1},
{"x":0.605,"y":1.84,"c":2},{"x":0.635,"y":1.835,"c":1},{"x":0.615,"y":1.82,"c":2},{"x":0.625,"y":1.8,"c":1},{"x":0.6,"y":1.8,"c":1},{"x":0.635,"y":1.78,"c":2},{"x":0.65,"y":1.76,"c":2},{"x":0.68,"y":1.755,"c":1},{"x":0.66,"y":1.74,"c":1},
{"x":0.67,"y":1.72,"c":2},{"x":0.645,"y":1.725,"c":1},{"x":0.68,"y":1.7,"c":2},{"x":0.695,"y":1.68,"c":1},{"x":0.725,"y":1.675,"c":1},{"x":0.71,"y":1.66,"c":2},{"x":0.72,"y":1.64,"c":2},{"x":0.695,"y":1.645,"c":1},{"x":0.735,"y":1.62,"c":1},
{"x":0.75,"y":1.6,"c":2},{"x":0.78,"y":1.595,"c":1},{"x":0.765,"y":1.58,"c":2},{"x":0.785,"y":1.56,"c":1},{"x":0.755,"y":1.565,"c":1},{"x":0.8,"y":1.54,"c":2},{"x":0.82,"y":1.52,"c":2},{"x":0.85,"y":1.515,"c":1},{"x":0.84,"y":1.5,"c":2},{"x":0.81,"y":1.505,"c":1},
{"x":0.86,"y":1.48,"c":2},{"x":0.89,"y":1.475,"c":1},{"x":0.88,"y":1.46,"c":1},{"x":0.855,"y":1.465,"c":1},{"x":0.905,"y":1.44,"c":2},{"x":0.935,"y":1.435,"c":1},{"x":0.93,"y":1.42,"c":2},{"x":0.96,"y":1.4,"c":2},{"x":0.93,"y":1.405,"c":1},
{"x":0.985,"y":1.38,"c":3},{"x":1.015,"y":1.375,"c":1},{"x":1.02,"y":1.36,"c":2},{"x":0.99,"y":1.365,"c":1},{"x":1.05,"y":1.34,"c":2},{"x":1.08,"y":1.335,"c":1},{"x":1.09,"y":1.32,"c":2},{"x":1.06,"y":1.325,"c":1},{"x":1.13,"y":1.3,"c":2},{"x":1.1,"y":1.31,"c":1},
{"x":0.565,"y":1.99,"c":1},{"x":0.535,"y":1.97,"c":1},{"x":0.58,"y":1.95,"c":1},{"x":0.55,"y":1.93,"c":2},{"x":0.595,"y":1.91,"c":1},{"x":0.565,"y":1.89,"c":1},{"x":0.615,"y":1.87,"c":1},{"x":0.585,"y":1.85,"c":2},{"x":0.63,"y":1.83,"c":1},{"x":0.6,"y":1.81,"c":1},{"x":0.65,"y":1.79,"c":1},{"x":0.62,"y":1.77,"c":2},{"x":0.675,"y":1.75,"c":1},{"x":0.645,"y":1.73,"c":1},{"x":0.7,"y":1.71,"c":1},{"x":0.665,"y":1.69,"c":2},{"x":0.725,"y":1.67,"c":1},{"x":0.69,"y":1.65,"c":1},{"x":0.755,"y":1.63,"c":1},{"x":0.72,"y":1.61,"c":2},{"x":0.785,"y":1.59,"c":1},{"x":0.75,"y":1.57,"c":1},{"x":0.815,"y":1.55,"c":2},{"x":0.785,"y":1.53,"c":1},{"x":0.855,"y":1.51,"c":1},{"x":0.825,"y":1.49,"c":2},{"x":0.9,"y":1.47,"c":1},{"x":0.87,"y":1.45,"c":1},{"x":0.945,"y":1.43,"c":2},{"x":0.915,"y":1.41,"c":1},{"x":1,"y":1.39,"c":1},{"x":0.975,"y":1.37,"c":2},{"x":1.065,"y":1.35,"c":1},{"x":1.04,"y":1.33,"c":1},{"x":1.14,"y":1.31,"c":1},
{"x":0.62,"y":1.86,"c":1},{"x":0.7,"y":1.73,"c":1},{"x":0.77,"y":1.62,"c":1},{"x":0.87,"y":1.53,"c":1},{"x":0.95,"y":1.45,"c":1},{"x":1.06,"y":1.37,"c":1},{"x":0.9,"y":1.4,"c":1},{"x":0.8,"y":1.52,"c":1},{"x":0.68,"y":1.66,"c":1},{"x":1.12,"y":1.33,"c":1},
{"x":1.15,"y":1.29,"c":2},{"x":1.15,"y":1.27,"c":1},{"x":1.2,"y":1.27,"c":3},{"x":1.2,"y":1.29,"c":1},{"x":1.25,"y":1.25,"c":2},{"x":1.25,"y":1.23,"c":1},{"x":1.3,"y":1.235,"c":3},{"x":1.3,"y":1.255,"c":1},{"x":1.35,"y":1.22,"c":2},{"x":1.35,"y":1.2,"c":1},
{"x":1.4,"y":1.205,"c":3},{"x":1.4,"y":1.225,"c":1},{"x":1.4,"y":1.185,"c":1},{"x":1.45,"y":1.19,"c":2},{"x":1.45,"y":1.17,"c":1},{"x":1.5,"y":1.18,"c":3},{"x":1.5,"y":1.2,"c":1},{"x":1.55,"y":1.17,"c":2},{"x":1.55,"y":1.15,"c":1},
{"x":1.6,"y":1.16,"c":2},{"x":1.6,"y":1.18,"c":1},{"x":1.65,"y":1.15,"c":2},{"x":1.65,"y":1.135,"c":1},{"x":1.7,"y":1.14,"c":2},{"x":1.7,"y":1.16,"c":1},{"x":1.75,"y":1.135,"c":2},{"x":1.75,"y":1.12,"c":1},{"x":1.8,"y":1.13,"c":2},{"x":1.8,"y":1.145,"c":1},
{"x":1.85,"y":1.12,"c":2},{"x":1.85,"y":1.105,"c":1},{"x":1.9,"y":1.115,"c":2},{"x":1.95,"y":1.11,"c":1},{"x":1.95,"y":1.125,"c":1},{"x":2,"y":1.105,"c":2},{"x":2,"y":1.09,"c":1},{"x":2.05,"y":1.1,"c":1},{"x":2.1,"y":1.095,"c":2},{"x":2.1,"y":1.11,"c":1},
{"x":2.15,"y":1.09,"c":1},{"x":2.2,"y":1.085,"c":2},{"x":2.2,"y":1.07,"c":1},{"x":2.25,"y":1.085,"c":1},{"x":2.3,"y":1.08,"c":1},{"x":2.3,"y":1.065,"c":1},{"x":2.35,"y":1.075,"c":1},{"x":2.4,"y":1.075,"c":1},{"x":2.5,"y":1.07,"c":1},{"x":2.5,"y":1.055,"c":1},{"x":2.6,"y":1.06,"c":1},{"x":2.7,"y":1.06,"c":1},{"x":2.8,"y":1.055,"c":1},{"x":2.9,"y":1.05,"c":1},{"x":3.1,"y":1.045,"c":1},
{"x":1.175,"y":1.28,"c":2},{"x":1.175,"y":1.26,"c":1},{"x":1.225,"y":1.26,"c":2},{"x":1.225,"y":1.245,"c":1},{"x":1.275,"y":1.24,"c":2},{"x":1.275,"y":1.26,"c":1},{"x":1.325,"y":1.225,"c":2},{"x":1.325,"y":1.21,"c":1},{"x":1.375,"y":1.21,"c":2},{"x":1.375,"y":1.195,"c":1},{"x":1.425,"y":1.2,"c":2},{"x":1.425,"y":1.215,"c":1},{"x":1.475,"y":1.185,"c":2},{"x":1.475,"y":1.17,"c":1},{"x":1.525,"y":1.175,"c":2},{"x":1.525,"y":1.19,"c":1},{"x":1.575,"y":1.165,"c":2},{"x":1.575,"y":1.15,"c":1},{"x":1.625,"y":1.155,"c":2},{"x":1.625,"y":1.17,"c":1},{"x":1.675,"y":1.145,"c":2},{"x":1.675,"y":1.13,"c":1},{"x":1.725,"y":1.14,"c":2},{"x":1.725,"y":1.155,"c":1},{"x":1.775,"y":1.13,"c":2},{"x":1.825,"y":1.125,"c":2},{"x":1.825,"y":1.11,"c":1},{"x":1.875,"y":1.12,"c":1},{"x":1.875,"y":1.135,"c":1},{"x":1.925,"y":1.11,"c":2},{"x":1.975,"y":1.105,"c":1},{"x":1.975,"y":1.12,"c":1},{"x":2.025,"y":1.1,"c":2},{"x":2.075,"y":1.095,"c":1},{"x":2.075,"y":1.08,"c":1},{"x":2.125,"y":1.095,"c":1},{"x":2.175,"y":1.09,"c":1},{"x":2.175,"y":1.105,"c":1},{"x":2.225,"y":1.085,"c":1},{"x":2.275,"y":1.08,"c":1},{"x":2.35,"y":1.09,"c":1},{"x":2.45,"y":1.07,"c":1},{"x":2.55,"y":1.065,"c":1},{"x":2.65,"y":1.05,"c":1},{"x":2.75,"y":1.055,"c":1},{"x":3,"y":1.045,"c":1},{"x":3.25,"y":1.04,"c":1},
{"x":-0.63,"y":1.8,"c":1},{"x":-0.65,"y":1.76,"c":1},{"x":-0.67,"y":1.72,"c":1},{"x":-0.7,"y":1.715,"c":1},{"x":-0.695,"y":1.68,"c":1},{"x":-0.72,"y":1.64,"c":2},{"x":-0.75,"y":1.6,"c":1},{"x":-0.72,"y":1.605,"c":1},{"x":-0.785,"y":1.56,"c":1},{"x":-0.81,"y":1.53,"c":2},
{"x":-0.84,"y":1.5,"c":1},{"x":-0.87,"y":1.495,"c":1},{"x":-0.87,"y":1.47,"c":2},{"x":-0.905,"y":1.44,"c":1},{"x":-0.88,"y":1.445,"c":1},{"x":-0.945,"y":1.41,"c":2},{"x":-0.985,"y":1.38,"c":1},{"x":-1.015,"y":1.375,"c":1},{"x":-1.035,"y":1.35,"c":2},{"x":-1.09,"y":1.32,"c":1},{"x":-1.06,"y":1.325,"c":1},
{"x":-0.64,"y":1.78,"c":1},{"x":-0.66,"y":1.74,"c":1},{"x":-0.685,"y":1.7,"c":1},{"x":-0.71,"y":1.66,"c":1},{"x":-0.74,"y":1.62,"c":1},{"x":-0.765,"y":1.58,"c":1},{"x":-0.8,"y":1.54,"c":1},{"x":-0.84,"y":1.51,"c":1},{"x":-0.86,"y":1.48,"c":1},{"x":-0.89,"y":1.455,"c":1},{"x":-0.93,"y":1.42,"c":1},{"x":-0.96,"y":1.4,"c":2},{"x":-0.99,"y":1.37,"c":1},{"x":-1.02,"y":1.36,"c":1},{"x":-1.05,"y":1.34,"c":2},{"x":-1.11,"y":1.31,"c":1},{"x":-1.13,"y":1.3,"c":1},{"x":-0.92,"y":1.46,"c":1},{"x":-0.82,"y":1.5,"c":1},{"x":-1,"y":1.395,"c":1},
{"x":-1.15,"y":1.29,"c":2},{"x":-1.2,"y":1.27,"c":1},{"x":-1.2,"y":1.25,"c":1},{"x":-1.25,"y":1.25,"c":2},{"x":-1.3,"y":1.235,"c":1},{"x":-1.3,"y":1.215,"c":1},{"x":-1.35,"y":1.22,"c":2},{"x":-1.4,"y":1.205,"c":1},{"x":-1.4,"y":1.225,"c":1},{"x":-1.45,"y":1.19,"c":2},
{"x":-1.5,"y":1.18,"c":1},{"x":-1.5,"y":1.165,"c":1},{"x":-1.55,"y":1.17,"c":2},{"x":-1.6,"y":1.16,"c":1},{"x":-1.6,"y":1.175,"c":1},{"x":-1.65,"y":1.15,"c":1},{"x":-1.7,"y":1.14,"c":2},{"x":-1.7,"y":1.125,"c":1},{"x":-1.75,"y":1.135,"c":1},{"x":-1.8,"y":1.13,"c":1},{"x":-1.8,"y":1.145,"c":1},
{"x":-1.85,"y":1.12,"c":1},{"x":-1.9,"y":1.115,"c":2},{"x":-2,"y":1.105,"c":1},{"x":-2,"y":1.09,"c":1},{"x":-2.1,"y":1.095,"c":1},{"x":-2.2,"y":1.085,"c":1},{"x":-2.3,"y":1.08,"c":1},{"x":-2.45,"y":1.07,"c":1},{"x":-2.6,"y":1.065,"c":1},{"x":-2.75,"y":1.055,"c":1},{"x":-2.9,"y":1.05,"c":1},{"x":-3.1,"y":1.045,"c":1},{"x":-3.3,"y":1.04,"c":1},
{"x":-1.175,"y":1.28,"c":1},{"x":-1.225,"y":1.26,"c":2},{"x":-1.275,"y":1.24,"c":1},{"x":-1.325,"y":1.225,"c":1},{"x":-1.325,"y":1.245,"c":1},{"x":-1.375,"y":1.21,"c":2},{"x":-1.425,"y":1.2,"c":1},{"x":-1.475,"y":1.185,"c":2},{"x":-1.525,"y":1.175,"c":1},{"x":-1.575,"y":1.165,"c":1},{"x":-1.575,"y":1.145,"c":1},{"x":-1.625,"y":1.155,"c":1},{"x":-1.675,"y":1.145,"c":2},{"x":-1.725,"y":1.14,"c":1},{"x":-1.775,"y":1.13,"c":1},{"x":-1.825,"y":1.125,"c":1},{"x":-1.875,"y":1.12,"c":1},{"x":-1.95,"y":1.11,"c":1},{"x":-2.05,"y":1.1,"c":1},{"x":-2.15,"y":1.09,"c":1},{"x":-2.25,"y":1.085,"c":1},{"x":-2.4,"y":1.075,"c":1},{"x":-2.55,"y":1.065,"c":1},{"x":-2.7,"y":1.06,"c":1},{"x":-3,"y":1.05,"c":1},{"x":-3.4,"y":1.035,"c":1},
{"x":3.17,"y":1.19,"c":1},{"x":1.99,"y":1.29,"c":1},{"x":1.58,"y":0.95,"c":1},{"x":0.65,"y":0.945,"c":1},{"x":0.87,"y":1.357,"c":1},{"x":0.54,"y":1.224,"c":1},{"x":0.47,"y":1.157,"c":1},{"x":2.39,"y":1.143,"c":1},{"x":-1.15,"y":0.96,"c":1},{"x":-0.45,"y":0.98,"c":1},{"x":-0.28,"y":0.985,"c":1},{"x":-1.95,"y":1.238,"c":1},{"x":-2.06,"y":1.122,"c":1},{"x":-2.86,"y":1.06,"c":1},{"x":-2.57,"y":1.09,"c":1},{"x":-1.68,"y":1.184,"c":1},{"x":-0.48,"y":1.303,"c":1},{"x":-1.17,"y":1.249,"c":1},{"x":0.3,"y":0.925,"c":1},{"x":-0.19,"y":1.514,"c":1},{"x":-0.74,"y":1.324,"c":1},{"x":0.24,"y":1.411,"c":1},{"x":0.35,"y":1.284,"c":1},{"x":0.65,"y":1.343,"c":1},{"x":1.32,"y":1.365,"c":1},{"x":-0.28,"y":1.265,"c":1},{"x":2.07,"y":1.719,"c":1},{"x":1.1,"y":0.97,"c":1},{"x":0.75,"y":0.96,"c":1},{"x":-0.9,"y":0.955,"c":1},{"x":-0.6,"y":0.965,"c":1},{"x":2.6,"y":0.99,"c":1},{"x":-2.3,"y":0.99,"c":1},{"x":3.3,"y":1,"c":1},{"x":0.42,"y":0.97,"c":1},{"x":-0.35,"y":0.975,"c":1}
],
"curves":[
{"s":"pi","b":"p","x":0.078,"y":2.0503},{"s":"pi","b":"p","x":0.08,"y":2.011},{"s":"pi","b":"p","x":0.085,"y":1.923},{"s":"pi","b":"p","x":0.09,"y":1.846},{"s":"pi","b":"p","x":0.095,"y":1.7776},{"s":"pi","b":"p","x":0.1,"y":1.717},{"s":"pi","b":"p","x":0.11,"y":1.616},{"s":"pi","b":"p","x":0.12,"y":1.534},{"s":"pi","b":"p","x":0.13,"y":1.4674},{"s":"pi","b":"p","x":0.14,"y":1.412},{"s":"pi","b":"p","x":0.16,"y":1.327},{"s":"pi","b":"p","x":0.18,"y":1.2655},{"s":"pi","b":"p","x":0.2,"y":1.2195},{"s":"pi","b":"p","x":0.225,"y":1.1769},{"s":"pi","b":"p","x":0.25,"y":1.1453},{"s":"pi","b":"p","x":0.3,"y":1.103},{"s":"pi","b":"p","x":0.35,"y":1.0766},{"s":"pi","b":"p","x":0.4,"y":1.0592},{"s":"pi","b":"p","x":0.5,"y":1.0383},{"s":"pi","b":"p","x":0.6,"y":1.0267},{"s":"pi","b":"p","x":0.7,"y":1.0197},{"s":"pi","b":"p","x":0.85,"y":1.0134},{"s":"pi","b":"p","x":1,"y":1.0097},{"s":"pi","b":"p","x":1.3,"y":1.0057},{"s":"pi","b":"p","x":1.7,"y":1.0034},{"s":"pi","b":"p","x":2.2,"y":1.002},{"s":"pi","b":"p","x":3,"y":1.0011},{"s":"pi","b":"p","x":3.6,"y":1.0008},
{"s":"pi","b":"n","x":-0.078,"y":2.0503},{"s":"pi","b":"n","x":-0.08,"y":2.011},{"s":"pi","b":"n","x":-0.085,"y":1.923},{"s":"pi","b":"n","x":-0.09,"y":1.846},{"s":"pi","b":"n","x":-0.095,"y":1.7776},{"s":"pi","b":"n","x":-0.1,"y":1.717},{"s":"pi","b":"n","x":-0.11,"y":1.616},{"s":"pi","b":"n","x":-0.12,"y":1.534},{"s":"pi","b":"n","x":-0.13,"y":1.4674},{"s":"pi","b":"n","x":-0.14,"y":1.412},{"s":"pi","b":"n","x":-0.16,"y":1.327},{"s":"pi","b":"n","x":-0.18,"y":1.2655},{"s":"pi","b":"n","x":-0.2,"y":1.2195},{"s":"pi","b":"n","x":-0.225,"y":1.1769},{"s":"pi","b":"n","x":-0.25,"y":1.1453},{"s":"pi","b":"n","x":-0.3,"y":1.103},{"s":"pi","b":"n","x":-0.35,"y":1.0766},{"s":"pi","b":"n","x":-0.4,"y":1.0592},{"s":"pi","b":"n","x":-0.5,"y":1.0383},{"s":"pi","b":"n","x":-0.6,"y":1.0267},{"s":"pi","b":"n","x":-0.7,"y":1.0197},{"s":"pi","b":"n","x":-0.85,"y":1.0134},{"s":"pi","b":"n","x":-1,"y":1.0097},{"s":"pi","b":"n","x":-1.3,"y":1.0057},{"s":"pi","b":"n","x":-1.7,"y":1.0034},{"s":"pi","b":"n","x":-2.2,"y":1.002},{"s":"pi","b":"n","x":-3,"y":1.0011},{"s":"pi","b":"n","x":-3.6,"y":1.0008},
{"s":"k","b":"p","x":0.275,"y":2.055},{"s":"k","b":"p","x":0.28,"y":2.027},{"s":"k","b":"p","x":0.29,"y":1.9744},{"s":"k","b":"p","x":0.3,"y":1.926},{"s":"k","b":"p","x":0.32,"y":1.8385},{"s":"k","b":"p","x":0.35,"y":1.729},{"s":"k","b":"p","x":0.38,"y":1.6395},{"s":"k","b":"p","x":0.42,"y":1.5433},{"s":"k","b":"p","x":0.46,"y":1.4669},{"s":"k","b":"p","x":0.5,"y":1.4053},{"s":"k","b":"p","x":0.55,"y":1.3438},{"s":"k","b":"p","x":0.6,"y":1.295},{"s":"k","b":"p","x":0.7,"y":1.2237},{"s":"k","b":"p","x":0.8,"y":1.1751},{"s":"k","b":"p","x":0.9,"y":1.1406},{"s":"k","b":"p","x":1,"y":1.1152},{"s":"k","b":"p","x":1.2,"y":1.0813},{"s":"k","b":"p","x":1.4,"y":1.0603},{"s":"k","b":"p","x":1.6,"y":1.0465},{"s":"k","b":"p","x":1.9,"y":1.0332},{"s":"k","b":"p","x":2.2,"y":1.0249},{"s":"k","b":"p","x":2.6,"y":1.0179},{"s":"k","b":"p","x":3,"y":1.0134},{"s":"k","b":"p","x":3.6,"y":1.0094},
{"s":"k","b":"n","x":-0.275,"y":2.055},{"s":"k","b":"n","x":-0.28,"y":2.027},{"s":"k","b":"n","x":-0.29,"y":1.9744},{"s":"k","b":"n","x":-0.3,"y":1.926},{"s":"k","b":"n","x":-0.32,"y":1.8385},{"s":"k","b":"n","x":-0.35,"y":1.729},{"s":"k","b":"n","x":-0.38,"y":1.6395},{"s":"k","b":"n","x":-0.42,"y":1.5433},{"s":"k","b":"n","x":-0.46,"y":1.4669},{"s":"k","b":"n","x":-0.5,"y":1.4053},{"s":"k","b":"n","x":-0.55,"y":1.3438},{"s":"k","b":"n","x":-0.6,"y":1.295},{"s":"k","b":"n","x":-0.7,"y":1.2237},{"s":"k","b":"n","x":-0.8,"y":1.1751},{"s":"k","b":"n","x":-0.9,"y":1.1406},{"s":"k","b":"n","x":-1,"y":1.1152},{"s":"k","b":"n","x":-1.2,"y":1.0813},{"s":"k","b":"n","x":-1.4,"y":1.0603},{"s":"k","b":"n","x":-1.6,"y":1.0465},{"s":"k","b":"n","x":-1.9,"y":1.0332},{"s":"k","b":"n","x":-2.2,"y":1.0249},{"s":"k","b":"n","x":-2.6,"y":1.0179},{"s":"k","b":"n","x":-3,"y":1.0134},{"s":"k","b":"n","x":-3.6,"y":1.0094},
{"s":"pr","b":"p","x":0.53,"y":2.033},{"s":"pr","b":"p","x":0.55,"y":1.9774},{"s":"pr","b":"p","x":0.58,"y":1.9018},{"s":"pr","b":"p","x":0.62,"y":1.8139},{"s":"pr","b":"p","x":0.66,"y":1.7381},{"s":"pr","b":"p","x":0.7,"y":1.6723},{"s":"pr","b":"p","x":0.75,"y":1.6016},{"s":"pr","b":"p","x":0.8,"y":1.5413},{"s":"pr","b":"p","x":0.9,"y":1.4446},{"s":"pr","b":"p","x":1,"y":1.3713},{"s":"pr","b":"p","x":1.1,"y":1.3144},{"s":"pr","b":"p","x":1.2,"y":1.2694},{"s":"pr","b":"p","x":1.35,"y":1.2178},{"s":"pr","b":"p","x":1.5,"y":1.1795},{"s":"pr","b":"p","x":1.7,"y":1.1421},{"s":"pr","b":"p","x":2,"y":1.1046},{"s":"pr","b":"p","x":2.3,"y":1.08},{"s":"pr","b":"p","x":2.6,"y":1.0631},{"s":"pr","b":"p","x":3,"y":1.0478},{"s":"pr","b":"p","x":3.6,"y":1.0334},
{"s":"pr","b":"n","x":-0.53,"y":2.033},{"s":"pr","b":"n","x":-0.55,"y":1.9774},{"s":"pr","b":"n","x":-0.58,"y":1.9018},{"s":"pr","b":"n","x":-0.62,"y":1.8139},{"s":"pr","b":"n","x":-0.66,"y":1.7381},{"s":"pr","b":"n","x":-0.7,"y":1.6723},{"s":"pr","b":"n","x":-0.75,"y":1.6016},{"s":"pr","b":"n","x":-0.8,"y":1.5413},{"s":"pr","b":"n","x":-0.9,"y":1.4446},{"s":"pr","b":"n","x":-1,"y":1.3713},{"s":"pr","b":"n","x":-1.1,"y":1.3144},{"s":"pr","b":"n","x":-1.2,"y":1.2694},{"s":"pr","b":"n","x":-1.35,"y":1.2178},{"s":"pr","b":"n","x":-1.5,"y":1.1795},{"s":"pr","b":"n","x":-1.7,"y":1.1421},{"s":"pr","b":"n","x":-2,"y":1.1046},{"s":"pr","b":"n","x":-2.3,"y":1.08},{"s":"pr","b":"n","x":-2.6,"y":1.0631},{"s":"pr","b":"n","x":-3,"y":1.0478},{"s":"pr","b":"n","x":-3.6,"y":1.0334}
],
"letters":[{"t":"p","x":1.233,"y":1.384},{"t":"p","x":-1.259,"y":1.384},{"t":"K","x":-0.906,"y":1.184},{"t":"K","x":0.882,"y":1.184}],
"sups":[{"t":"-","x":-0.743,"y":1.2297},{"t":"+","x":1.091,"y":1.2405},{"t":"-","x":-0.46,"y":1.0865},{"t":"+","x":0.78,"y":1.1}],
"pis":[{"t":"π","x":-0.636,"y":1.046},{"t":"π","x":0.555,"y":1.054}],
"bar":[{"x":-1.38,"x2":-1.15,"y":1.47}],
"tag":[{"t":"TOFW","x":2.175,"y":1.824}]
},
"layer":[
{"data":{"name":"cells"},
"mark":{"type":"square","size":14,"opacity":1},
"encoding":{
"x":{"field":"x","type":"quantitative","scale":{"domain":[-3.52,3.45],"nice":false,"zero":false},
"axis":{"orient":"bottom","values":[-3,-2,-1,0,1,2,3],"labelExpr":"datum.value + ''","grid":true,"tickSize":-12,"labelPadding":20,"title":"1/q × reconstructed momentum [GeV/c]","titleFontSize":25,"titleAlign":"right","titleAnchor":"end","titleX":624,"titlePadding":7,"zindex":1}},
"y":{"field":"y","type":"quantitative","scale":{"domain":[0.897,2.016],"nice":false,"zero":false},
"axis":{"orient":"left","values":[1,1.2,1.4,1.6,1.8,2],"labelExpr":"datum.value + ''","grid":true,"tickSize":-10,"labelPadding":17,"title":"1/beta","titleFontSize":36,"titlePadding":3,"zindex":1}},
"color":{"field":"c","type":"quantitative","scale":{"type":"threshold","domain":[3,5,8,12,17,25,35],"range":["#7300ff","#2a00ff","#0064ff","#00c8ff","#14ff50","#f0ff00","#ff9600","#ff0000"]},"legend":null}}},
{"data":{"name":"curves"},"transform":[{"filter":"datum.s == 'pr'"}],
"mark":{"type":"line","clip":true,"strokeWidth":2,"color":"#0000ff"},
"encoding":{
"x":{"field":"x","type":"quantitative","scale":{"domain":[-3.52,3.45],"nice":false,"zero":false},
"axis":{"orient":"bottom","values":[-3.4,-3.2,-2.8,-2.6,-2.4,-2.2,-1.8,-1.6,-1.4,-1.2,-0.8,-0.6,-0.4,-0.2,0.2,0.4,0.6,0.8,1.2,1.4,1.6,1.8,2.2,2.4,2.6,2.8,3.2,3.4],"labels":false,"domain":false,"grid":false,"tickSize":-6,"title":null}},
"y":{"field":"y","type":"quantitative","scale":{"domain":[0.897,2.016],"nice":false,"zero":false},
"axis":{"orient":"left","values":[0.9,0.95,1.05,1.1,1.15,1.25,1.3,1.35,1.45,1.5,1.55,1.65,1.7,1.75,1.85,1.9,1.95],"labels":false,"domain":false,"grid":false,"tickSize":-6,"title":null}},
"detail":{"field":"b"}}},
{"data":{"name":"curves"},"transform":[{"filter":"datum.s == 'k'"}],
"mark":{"type":"line","clip":true,"strokeWidth":2,"color":"#00ff00"},
"encoding":{
"x":{"field":"x","type":"quantitative","scale":{"domain":[-3.52,3.45],"nice":false,"zero":false},"axis":null},
"y":{"field":"y","type":"quantitative","scale":{"domain":[0.897,2.016],"nice":false,"zero":false},"axis":null},
"detail":{"field":"b"}}},
{"data":{"name":"curves"},"transform":[{"filter":"datum.s == 'pi'"}],
"mark":{"type":"line","clip":true,"strokeWidth":2,"color":"#ff0000"},
"encoding":{
"x":{"field":"x","type":"quantitative","scale":{"domain":[-3.52,3.45],"nice":false,"zero":false},"axis":null},
"y":{"field":"y","type":"quantitative","scale":{"domain":[0.897,2.016],"nice":false,"zero":false},"axis":null},
"detail":{"field":"b"}}},
{"data":{"name":"letters"},
"mark":{"type":"text","font":"Liberation Sans","fontWeight":"bold","fontSize":32,"color":"black","align":"center","baseline":"alphabetic"},
"encoding":{
"x":{"field":"x","type":"quantitative","scale":{"domain":[-3.52,3.45],"nice":false,"zero":false},
"axis":{"orient":"top","labels":false,"ticks":false,"grid":false,"domain":true,"title":null}},
"y":{"field":"y","type":"quantitative","scale":{"domain":[0.897,2.016],"nice":false,"zero":false},"axis":null},
"text":{"field":"t"}}},
{"data":{"name":"sups"},
"mark":{"type":"text","font":"Liberation Sans","fontWeight":"bold","fontSize":24,"color":"black","align":"center","baseline":"alphabetic"},
"encoding":{
"x":{"field":"x","type":"quantitative","scale":{"domain":[-3.52,3.45],"nice":false,"zero":false},"axis":null},
"y":{"field":"y","type":"quantitative","scale":{"domain":[0.897,2.016],"nice":false,"zero":false},"axis":null},
"text":{"field":"t"}}},
{"data":{"name":"pis"},
"mark":{"type":"text","font":"Liberation Serif","fontStyle":"italic","fontWeight":"bold","fontSize":40,"color":"black","align":"center","baseline":"alphabetic"},
"encoding":{
"x":{"field":"x","type":"quantitative","scale":{"domain":[-3.52,3.45],"nice":false,"zero":false},"axis":null},
"y":{"field":"y","type":"quantitative","scale":{"domain":[0.897,2.016],"nice":false,"zero":false},"axis":null},
"text":{"field":"t"}}},
{"data":{"name":"bar"},
"mark":{"type":"rule","strokeWidth":3,"color":"black"},
"encoding":{
"x":{"field":"x","type":"quantitative","scale":{"domain":[-3.52,3.45],"nice":false,"zero":false},"axis":null},
"x2":{"field":"x2"},
"y":{"field":"y","type":"quantitative","scale":{"domain":[0.897,2.016],"nice":false,"zero":false},"axis":null}}},
{"data":{"name":"tag"},
"mark":{"type":"text","font":"Liberation Serif","fontWeight":"bold","fontSize":42,"color":"#cc0000","align":"center","baseline":"alphabetic"},
"encoding":{
"x":{"field":"x","type":"quantitative","scale":{"domain":[-3.52,3.45],"nice":false,"zero":false},"axis":null},
"y":{"field":"y","type":"quantitative","scale":{"domain":[0.897,2.016],"nice":false,"zero":false},"axis":null},
"text":{"field":"t"}}}
],
"resolve":{"axis":{"x":"independent","y":"independent"}}
}
